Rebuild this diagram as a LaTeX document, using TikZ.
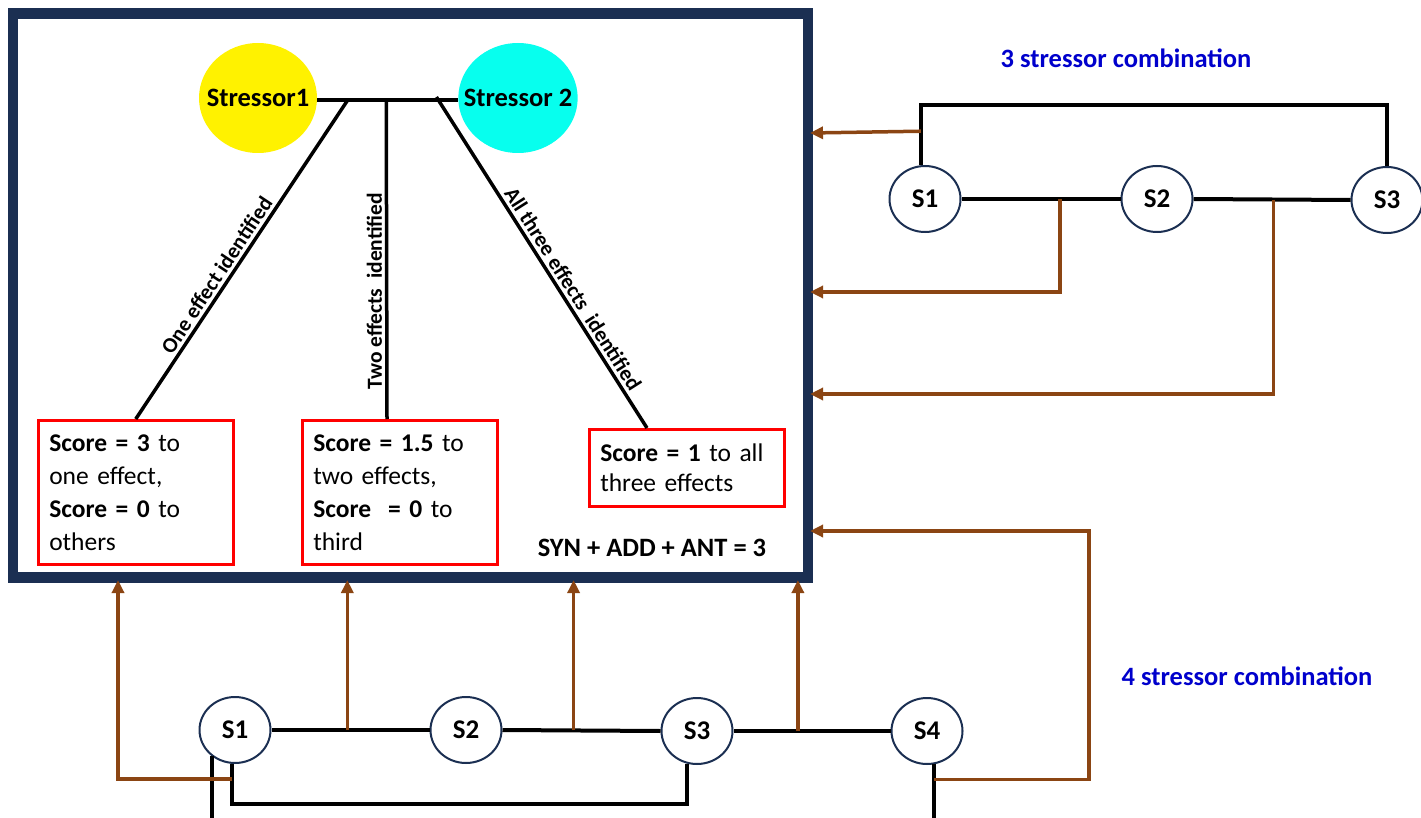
\documentclass[tikz,border=0pt]{standalone}
\usepackage{fontspec}
\setmainfont{Carlito}
\usetikzlibrary{arrows.meta,shapes.geometric}
\definecolor{navyc}{RGB}{27,47,82}
\definecolor{brownc}{RGB}{139,69,19}
\definecolor{titlec}{RGB}{0,0,204}
\definecolor{cyanc}{RGB}{7,255,238}
\begin{document}
\begin{tikzpicture}[x=1pt,y=-1pt,
  snode/.style={ellipse, draw=navyc, line width=2pt, fill=white, minimum width=71pt, minimum height=66pt, inner sep=0pt, font=\bfseries\fontsize{27}{30}\selectfont},
  stress/.style={ellipse, minimum width=118pt, minimum height=110pt, inner xsep=-12pt, inner ysep=0pt, font=\bfseries\fontsize{26.5}{30}\selectfont},
  scorebox/.style={draw=red, line width=2.5pt, align=left, inner xsep=11pt, inner ysep=0pt, anchor=north west, text width=173pt, font=\fontsize{25.5}{33}\selectfont},
  blk/.style={black, line width=4pt},
  brw/.style={brownc, line width=3.5pt},
  tip/.style={-{Triangle[length=13pt,width=12pt]}},
  lbl/.style={font=\bfseries\fontsize{21.5}{21.5}\selectfont, inner sep=3pt},
  ttl/.style={text=titlec, font=\bfseries\fontsize{26.5}{30}\selectfont},
  frm/.style={draw=navyc, line width=10.5pt, minimum width=795pt, minimum height=564pt, inner sep=0pt}
]
\useasboundingbox (0,0) rectangle (1421,818);
\clip (0,0) rectangle (1421,818);

% main frame
\node[frm] (frame) at (410.5,295.5) {};

% stressors
\node[stress, fill=yellow] (st1) at (258,98) {Stressor1};
\node[stress, fill=cyanc] (st2) at (518,98) {Stressor 2};
\draw[black, line width=4.5pt] ([yshift=-2pt]st1.east) -- ([yshift=-2pt]st2.west)
  coordinate[pos=0.217] (m1) coordinate[pos=0.49] (m2) coordinate[pos=0.846] (m3);

% score boxes
\node[scorebox, minimum height=144pt] (box1) at (37,419)
  {\textbf{Score = 3} to\\one effect,\\\textbf{Score = 0} to\\others};
\node[scorebox, minimum height=144pt] (box2) at (301,419)
  {\textbf{Score = 1.5} to\\two effects,\\\textbf{Score\ \ = 0} to\\third};
\node[scorebox, minimum height=77pt, font=\fontsize{25.5}{30}\selectfont] (box3) at (588,428)
  {\textbf{Score = 1} to all\\three effects};
\path (box2.north west) ++(86,0) coordinate (t2);
\path (box3.north west) ++(59,0) coordinate (t3);

\draw[black, line width=3.5pt] (m1) -- (box1.north)
  node[lbl, sloped, above, pos=0.57] (l1) {One effect identified};
\draw[black, line width=3.5pt] (m2) -- (t2)
  node[lbl, rotate=90, anchor=south, pos=0.60] (l2) {Two effects\ \ identified};
\draw[black, line width=3.5pt] ([yshift=3pt]m3) -- (t3)
  node[lbl, sloped, above, pos=0.60] (l3) {All three effects\ \ identified};

\node[font=\bfseries\fontsize{26.5}{30}\selectfont] (sum) at (652,548) {SYN + ADD + ANT = 3};

% 3 stressor combination
\node[ttl] (tt3) at (1126,58) {3 stressor combination};
\node[snode] (r1) at (925,199) {S1};
\node[snode] (r2) at (1157,199) {S2};
\node[snode] (r3) at (1387,200) {S3};
\draw[blk] (r1.east) -- (r2.west) coordinate[pos=0.62] (k12);
\draw[blk] (r2.east) -- (r3.west) coordinate[pos=0.51] (k23);
\draw[blk] (r1.97) -- ++(0,-60) coordinate (k0) -| (r3.north);
\path (r1.97) ++(0,-34) coordinate (k1);
\coordinate (fa) at (810,133);
\coordinate (fb) at (810,292);
\coordinate (fc) at (810,394);
\draw[brw, tip] (k1) -- (fa);
\draw[brw, tip] (k12) |- (fb);
\draw[brw, tip] (k23) |- (fc);

% 4 stressor combination
\node[ttl] (tt4) at (1247,676) {4 stressor combination};
\node[snode] (b1) at (235,730) {S1};
\node[snode] (b2) at (466,730) {S2};
\node[snode] (b3) at (697,731) {S3};
\node[snode] (b4) at (927,731) {S4};
\draw[blk] (b1.east) -- (b2.west) coordinate[pos=0.48] (j12);
\draw[blk] (b2.east) -- (b3.west) coordinate[pos=0.45] (j23);
\draw[blk] (b3.east) -- (b4.west) coordinate[pos=0.41] (j34);
\coordinate (bot) at (0,818);
\coordinate (fbot) at (0,580);
\draw[blk] (b1.265) -- ++(0,40) -| (b3.253);
\draw[blk] (b1.229) -- (b1.229 |- bot);
\draw[blk] (b4.282) -- (b4.282 |- bot);
\path (b1.265) ++(0,15) coordinate (j1);
\path (b4.282) ++(0,15) coordinate (j4);
\coordinate (f1) at (118,580);
\coordinate (c4) at (1089,531);
\coordinate (f4) at (810,531);
\draw[brw, tip] (j1) -| (f1);
\draw[brw, tip] (j12) -- (j12 |- fbot);
\draw[brw, tip] (j23) -- (j23 |- fbot);
\draw[brw, tip] (j34) -- (j34 |- fbot);
\draw[brw, tip] (j4) -| (c4) -- (f4);
\end{tikzpicture}
\end{document}
